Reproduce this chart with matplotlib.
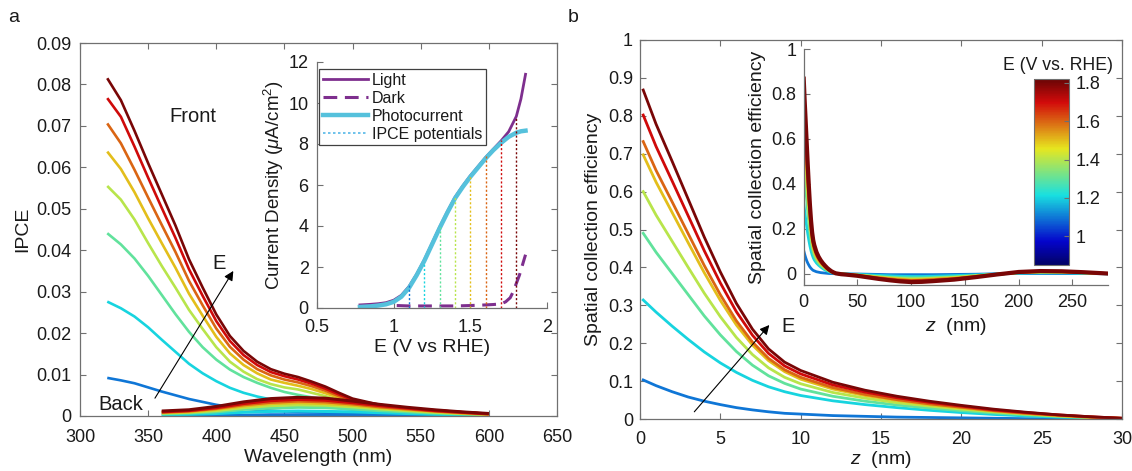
import numpy as np
import matplotlib
matplotlib.use("Agg")
import matplotlib.pyplot as plt
from matplotlib import colors
from matplotlib.colorbar import ColorbarBase
from matplotlib.lines import Line2D

plt.rcParams['font.family'] = ['Liberation Sans', 'DejaVu Sans']
plt.rcParams['mathtext.fontset'] = 'custom'
plt.rcParams['mathtext.rm'] = 'Liberation Sans'
plt.rcParams['mathtext.it'] = 'Liberation Sans:italic'

# ---------------- data ----------------
potentials = [1.1, 1.2, 1.3, 1.4, 1.5, 1.6, 1.7, 1.8]

# IPCE, front illumination
wl_front = [320, 330, 340, 350, 360, 370, 380, 390, 400, 410, 420, 430, 440,
            450, 460, 470, 480, 490, 500, 520, 540, 560, 580, 600]
ipce_front = [
    [0.0092, 0.0086, 0.0079, 0.0069, 0.0059, 0.0050, 0.0041, 0.0034, 0.0027, 0.0022, 0.0018, 0.0015, 0.0013,
     0.0011, 0.0010, 0.0009, 0.0008, 0.0006, 0.0005, 0.0003, 0.0002, 0.0002, 0.0001, 0.0001],
    [0.0276, 0.0260, 0.0240, 0.0214, 0.0184, 0.0155, 0.0126, 0.0103, 0.0084, 0.0068, 0.0056, 0.0047, 0.0040,
     0.0035, 0.0031, 0.0027, 0.0023, 0.0019, 0.0015, 0.0010, 0.0007, 0.0005, 0.0003, 0.0002],
    [0.0441, 0.0414, 0.0380, 0.0338, 0.0292, 0.0246, 0.0203, 0.0166, 0.0136, 0.0112, 0.0094, 0.0080, 0.0068,
     0.0058, 0.0051, 0.0045, 0.0039, 0.0032, 0.0025, 0.0015, 0.0010, 0.0007, 0.0005, 0.0003],
    [0.0555, 0.0522, 0.0474, 0.0417, 0.0362, 0.0310, 0.0256, 0.0210, 0.0166, 0.0131, 0.0107, 0.0089, 0.0077,
     0.0069, 0.0064, 0.0056, 0.0048, 0.0038, 0.0029, 0.0018, 0.0013, 0.0009, 0.0006, 0.0004],
    [0.0638, 0.0596, 0.0540, 0.0477, 0.0417, 0.0358, 0.0295, 0.0242, 0.0191, 0.0151, 0.0123, 0.0103, 0.0088,
     0.0080, 0.0073, 0.0065, 0.0055, 0.0044, 0.0033, 0.0021, 0.0015, 0.0011, 0.0007, 0.0004],
    [0.0706, 0.0658, 0.0594, 0.0527, 0.0461, 0.0396, 0.0326, 0.0267, 0.0211, 0.0167, 0.0136, 0.0113, 0.0098,
     0.0088, 0.0081, 0.0072, 0.0061, 0.0048, 0.0036, 0.0023, 0.0016, 0.0012, 0.0008, 0.0005],
    [0.0767, 0.0722, 0.0650, 0.0575, 0.0502, 0.0430, 0.0354, 0.0290, 0.0229, 0.0181, 0.0147, 0.0123, 0.0106,
     0.0096, 0.0088, 0.0078, 0.0066, 0.0052, 0.0039, 0.0025, 0.0018, 0.0013, 0.0009, 0.0005],
    [0.0815, 0.0762, 0.0688, 0.0610, 0.0535, 0.0460, 0.0378, 0.0310, 0.0245, 0.0193, 0.0157, 0.0131, 0.0113,
     0.0102, 0.0094, 0.0083, 0.0071, 0.0056, 0.0042, 0.0027, 0.0019, 0.0014, 0.0009, 0.0005],
]

# IPCE, back illumination
wl_back = [360, 380, 400, 420, 440, 460, 480, 500, 520, 540, 560, 580, 600]
ipce_back = [
    [0.0001, 0.0001, 0.0002, 0.0002, 0.0003, 0.0003, 0.0003, 0.0003, 0.0002, 0.0002, 0.0001, 0.0001, 0.0001],
    [0.0003, 0.0004, 0.0006, 0.0009, 0.0011, 0.0012, 0.0011, 0.0010, 0.0008, 0.0006, 0.0004, 0.0003, 0.0002],
    [0.0005, 0.0007, 0.0010, 0.0016, 0.0019, 0.0021, 0.0020, 0.0017, 0.0013, 0.0010, 0.0007, 0.0005, 0.0003],
    [0.0007, 0.0009, 0.0013, 0.0020, 0.0025, 0.0027, 0.0026, 0.0022, 0.0017, 0.0013, 0.0009, 0.0006, 0.0004],
    [0.0008, 0.0010, 0.0016, 0.0024, 0.0030, 0.0032, 0.0030, 0.0026, 0.0020, 0.0015, 0.0011, 0.0007, 0.0004],
    [0.0009, 0.0012, 0.0018, 0.0027, 0.0033, 0.0036, 0.0034, 0.0029, 0.0022, 0.0017, 0.0012, 0.0008, 0.0005],
    [0.0010, 0.0013, 0.0020, 0.0030, 0.0037, 0.0040, 0.0038, 0.0032, 0.0025, 0.0019, 0.0013, 0.0009, 0.0005],
    [0.0012, 0.0015, 0.0023, 0.0034, 0.0042, 0.0045, 0.0043, 0.0036, 0.0028, 0.0021, 0.0015, 0.0010, 0.0006],
]

# J-E curves
e_jv = [0.78, 0.85, 0.90, 0.95, 1.00, 1.05, 1.10, 1.15, 1.20, 1.25, 1.30, 1.35, 1.40,
        1.45, 1.50, 1.55, 1.60, 1.65, 1.70, 1.75, 1.80, 1.83, 1.86]
j_light = [0.15, 0.18, 0.21, 0.26, 0.38, 0.62, 1.05, 1.65, 2.35, 3.15, 3.95, 4.70, 5.40,
           5.95, 6.45, 6.90, 7.35, 7.75, 8.15, 8.60, 9.35, 10.2, 11.4]
j_photo = [0.05, 0.08, 0.12, 0.18, 0.30, 0.55, 0.98, 1.60, 2.30, 3.10, 3.90, 4.65, 5.35,
           5.90, 6.40, 6.85, 7.30, 7.70, 8.05, 8.35, 8.55, 8.62, 8.65]
e_dark = [1.02, 1.10, 1.20, 1.30, 1.40, 1.50, 1.60, 1.65, 1.70, 1.73, 1.76, 1.78, 1.80, 1.82, 1.84, 1.86]
j_dark = [0.12, 0.10, 0.10, 0.10, 0.10, 0.12, 0.15, 0.17, 0.20, 0.30, 0.50, 0.80, 1.20, 1.60, 2.10, 2.60]
j_ipce_top = [1.12, 2.26, 4.05, 5.43, 6.49, 7.46, 8.20, 9.33]

# spatial collection efficiency
z_near = [0.2, 1, 2, 3, 4, 5, 6, 7, 8, 9, 10, 12, 14, 16, 18, 20, 22, 24, 26, 28, 30]
sce_near = [
    [0.103, 0.088, 0.072, 0.058, 0.047, 0.038, 0.030, 0.024, 0.019, 0.015, 0.013, 0.009, 0.007, 0.005, 0.004,
     0.003, 0.002, 0.001, 0.001, 0.0005, 0.0002],
    [0.314, 0.282, 0.245, 0.210, 0.177, 0.148, 0.123, 0.102, 0.085, 0.072, 0.062, 0.048, 0.038, 0.030, 0.023,
     0.017, 0.012, 0.008, 0.005, 0.003, 0.001],
    [0.490, 0.440, 0.384, 0.328, 0.272, 0.222, 0.178, 0.142, 0.114, 0.094, 0.079, 0.060, 0.047, 0.037, 0.029,
     0.022, 0.016, 0.011, 0.007, 0.004, 0.001],
    [0.600, 0.538, 0.469, 0.400, 0.332, 0.270, 0.215, 0.170, 0.135, 0.110, 0.093, 0.070, 0.055, 0.043, 0.034,
     0.026, 0.019, 0.013, 0.008, 0.004, 0.0015],
    [0.697, 0.625, 0.545, 0.465, 0.386, 0.313, 0.248, 0.195, 0.154, 0.125, 0.105, 0.079, 0.062, 0.049, 0.038,
     0.029, 0.021, 0.015, 0.009, 0.005, 0.0015],
    [0.732, 0.656, 0.573, 0.489, 0.405, 0.328, 0.259, 0.203, 0.160, 0.130, 0.110, 0.083, 0.065, 0.051, 0.040,
     0.031, 0.022, 0.015, 0.010, 0.005, 0.002],
    [0.802, 0.719, 0.628, 0.536, 0.444, 0.359, 0.283, 0.221, 0.173, 0.140, 0.119, 0.090, 0.071, 0.056, 0.044,
     0.034, 0.024, 0.017, 0.011, 0.006, 0.002],
    [0.868, 0.778, 0.680, 0.580, 0.480, 0.388, 0.305, 0.237, 0.185, 0.150, 0.128, 0.097, 0.076, 0.060, 0.047,
     0.036, 0.026, 0.018, 0.011, 0.006, 0.002],
]
z_far = [35, 40, 50, 60, 70, 80, 90, 100, 110, 120, 140, 160, 180, 200, 220, 240, 260, 283]
sce_far = [
    [0.000, -0.001, -0.001, -0.002, -0.003, -0.004, -0.004, -0.004, -0.004, -0.004, -0.003, -0.002, 0.000,
     0.001, 0.001, 0.001, 0.001, 0.000],
    [-0.001, -0.001, -0.003, -0.005, -0.007, -0.009, -0.011, -0.012, -0.012, -0.011, -0.008, -0.005, -0.001,
     0.003, 0.004, 0.004, 0.002, 0.000],
    [-0.001, -0.002, -0.005, -0.008, -0.012, -0.015, -0.017, -0.018, -0.018, -0.017, -0.013, -0.008, -0.002,
     0.004, 0.006, 0.006, 0.004, 0.000],
    [-0.001, -0.002, -0.006, -0.010, -0.014, -0.018, -0.021, -0.023, -0.022, -0.020, -0.016, -0.009, -0.002,
     0.005, 0.007, 0.007, 0.004, 0.001],
    [-0.001, -0.003, -0.006, -0.012, -0.017, -0.021, -0.024, -0.027, -0.026, -0.024, -0.019, -0.011, -0.002,
     0.006, 0.009, 0.008, 0.005, 0.001],
    [-0.002, -0.003, -0.007, -0.013, -0.018, -0.023, -0.027, -0.030, -0.029, -0.026, -0.021, -0.012, -0.002,
     0.006, 0.010, 0.009, 0.006, 0.001],
    [-0.002, -0.004, -0.008, -0.014, -0.021, -0.026, -0.031, -0.033, -0.032, -0.030, -0.023, -0.014, -0.003,
     0.007, 0.011, 0.010, 0.006, 0.001],
    [-0.002, -0.004, -0.009, -0.016, -0.023, -0.029, -0.034, -0.037, -0.036, -0.033, -0.026, -0.015, -0.003,
     0.008, 0.012, 0.011, 0.007, 0.001],
]

# ---------------- styling ----------------
W, H = 1132, 471
SPINE = '#707070'
TXT = '#1a1a1a'
TICK_FS = 13
LABEL_FS = 14

# MATLAB-style jet, slightly softened, for the potential scale
_x = np.linspace(0, 1, 256)
_jet = np.stack([np.clip(1.5 - np.abs(4 * _x - 3), 0, 1),
                 np.clip(1.5 - np.abs(4 * _x - 2), 0, 1),
                 np.clip(1.5 - np.abs(4 * _x - 1), 0, 1)], axis=1)
_gray = _jet @ np.array([0.299, 0.587, 0.114])
_soft = (0.85 * _jet + 0.15 * _gray[:, None]) * 0.92
cmap = colors.ListedColormap(np.clip(_soft, 0, 1))
norm = colors.Normalize(vmin=0.85, vmax=1.82)
line_colors = [cmap(norm(e)) for e in potentials]


def px_axes(fig, left, top, right, bottom):
    return fig.add_axes([left / W, 1 - bottom / H, (right - left) / W, (bottom - top) / H])


def style(ax, box=True, xpad=9, ypad=5.5):
    for s in ax.spines.values():
        s.set_color(SPINE)
        s.set_linewidth(0.9)
    if not box:
        ax.spines['top'].set_visible(False)
        ax.spines['right'].set_visible(False)
    ax.tick_params(direction='in', length=4.5, width=0.8, color=SPINE,
                   labelsize=TICK_FS, labelcolor=TXT, top=box, right=box)
    ax.tick_params(axis='x', pad=xpad)
    ax.tick_params(axis='y', pad=ypad)


def num_fmt(v):
    return f'{v:.2f}'.rstrip('0').rstrip('.')


fig = plt.figure(figsize=(W / 100, H / 100), dpi=100)
fig.patch.set_facecolor('white')

# ---------------- panel a ----------------
ax_a = px_axes(fig, 80, 43, 557, 416)
for k in range(len(potentials)):
    ax_a.plot(wl_front, ipce_front[k], color=line_colors[k], lw=1.9, solid_capstyle='butt')
for k in range(len(potentials)):
    ax_a.plot(wl_back, ipce_back[k], color=line_colors[k], lw=2.2, solid_capstyle='butt')
ax_a.set_xlim(300, 650)
ax_a.set_ylim(0, 0.09)
ax_a.set_xticks(np.arange(300, 651, 50))
yt = np.round(np.arange(0, 0.0901, 0.01), 2)
ax_a.set_yticks(yt)
ax_a.set_yticklabels([num_fmt(v) for v in yt])
style(ax_a, xpad=9, ypad=6)
ax_a.set_xlabel('Wavelength (nm)', fontsize=LABEL_FS, color=TXT)
ax_a.xaxis.set_label_coords(0.5, -0.088)
ax_a.set_ylabel('IPCE', fontsize=LABEL_FS, color=TXT)
ax_a.yaxis.set_label_coords(-0.103, 0.5)
ax_a.text(383, 0.0722, 'Front', fontsize=14.5, ha='center', va='center', color=TXT)
ax_a.text(330, 0.0027, 'Back', fontsize=14.5, ha='center', va='center', color=TXT)
ax_a.text(402, 0.0369, 'E', fontsize=14.5, ha='center', va='center', color=TXT)
ax_a.annotate('', xy=(412.5, 0.0350), xytext=(355, 0.0043),
              arrowprops=dict(arrowstyle='-|>', lw=0.8, color='k', mutation_scale=14,
                              shrinkA=0, shrinkB=0))

# inset a: J-E curves
ins_a = px_axes(fig, 317, 62, 547, 308)
purple = (0.494, 0.184, 0.556)
cyan = '#55c1dc'
ins_a.plot(e_jv, j_light, color=purple, lw=2.0)
ins_a.plot(e_dark, j_dark, color=purple, lw=2.2, ls=(0, (4.5, 2.5)))
ins_a.plot(e_jv, j_photo, color=cyan, lw=3.2)
for k, e in enumerate(potentials):
    ins_a.plot([e, e], [0, j_ipce_top[k]], color=line_colors[k], lw=1.0, ls=(0, (1.5, 1.5)))
ins_a.set_xlim(0.5, 2)
ins_a.set_ylim(0, 12)
ins_a.set_xticks([0.5, 1, 1.5, 2])
ins_a.set_xticklabels(['0.5', '1', '1.5', '2'])
ins_a.set_yticks(np.arange(0, 13, 2))
ins_a.patch.set_alpha(0)
style(ins_a, box=False, xpad=8, ypad=6)
ins_a.set_xlabel('E (V vs RHE)', fontsize=LABEL_FS, color=TXT)
ins_a.xaxis.set_label_coords(0.5, -0.128)
ins_a.set_ylabel(r'Current Density ($\mu$A/cm$^2$)', fontsize=13.5, color=TXT)
ins_a.yaxis.set_label_coords(-0.135, 0.5)
handles = [Line2D([], [], color=purple, lw=2.0),
           Line2D([], [], color=purple, lw=2.2, ls=(0, (4.5, 2.5))),
           Line2D([], [], color=cyan, lw=3.2),
           Line2D([], [], color='#55b8e8', lw=1.2, ls=(0, (1.5, 1.5)))]
leg = ins_a.legend(handles, ['Light', 'Dark', 'Photocurrent', 'IPCE potentials'],
                   loc='upper left', bbox_to_anchor=(0.008, 0.972), fontsize=11.5,
                   handlelength=2.8, handletextpad=0.25, labelspacing=0.18,
                   borderpad=0.25, borderaxespad=0, fancybox=False, framealpha=1)
leg.get_frame().set_edgecolor('#404040')
leg.get_frame().set_linewidth(0.9)
for t in leg.get_texts():
    t.set_color(TXT)

# ---------------- panel b ----------------
ax_b = px_axes(fig, 640, 40, 1122, 419)
for k in range(len(potentials)):
    ax_b.plot(z_near, sce_near[k], color=line_colors[k], lw=2.0)
ax_b.set_xlim(0, 30)
ax_b.set_ylim(0, 1)
ax_b.set_xticks(np.arange(0, 31, 5))
ybt = np.round(np.arange(0, 1.01, 0.1), 1)
ax_b.set_yticks(ybt)
ax_b.set_yticklabels([num_fmt(v) for v in ybt])
style(ax_b, xpad=9, ypad=5)
ax_b.set_xlabel(r'$z$  (nm)', fontsize=LABEL_FS, color=TXT)
ax_b.xaxis.set_label_coords(0.5, -0.079)
ax_b.set_ylabel('Spatial collection efficiency', fontsize=LABEL_FS, color=TXT)
ax_b.yaxis.set_label_coords(-0.079, 0.5)
ax_b.annotate('', xy=(8.05, 0.248), xytext=(3.38, 0.019),
              arrowprops=dict(arrowstyle='-|>', lw=0.8, color='k', mutation_scale=14,
                              shrinkA=0, shrinkB=0))
ax_b.text(8.8, 0.243, 'E', fontsize=14.5, ha='left', va='center', color=TXT)

# inset b: full-depth profiles
ins_b = px_axes(fig, 803.5, 49, 1108, 285)
for k in range(len(potentials)):
    lw = 3.0 if k == len(potentials) - 1 else 2.0
    ins_b.plot(list(z_near) + list(z_far), list(sce_near[k]) + list(sce_far[k]),
               color=line_colors[k], lw=lw)
ins_b.set_xlim(0, 283)
ins_b.set_ylim(-0.05, 1.0)
ins_b.set_xticks(np.arange(0, 251, 50))
ins_b.set_yticks([0, 0.2, 0.4, 0.6, 0.8, 1])
ins_b.set_yticklabels(['0', '0.2', '0.4', '0.6', '0.8', '1'])
ins_b.patch.set_alpha(0)
style(ins_b, box=False, xpad=6.5, ypad=5)
ins_b.set_xlabel(r'$z$  (nm)', fontsize=LABEL_FS, color=TXT)
ins_b.xaxis.set_label_coords(0.5, -0.131)
ins_b.set_ylabel('Spatial collection efficiency', fontsize=LABEL_FS, color=TXT)
ins_b.yaxis.set_label_coords(-0.123, 0.5)

# colour bar for the applied potential
cax = px_axes(fig, 1034, 79, 1069, 265)
cb = ColorbarBase(cax, cmap=cmap, norm=norm, orientation='vertical',
                  ticks=[1.0, 1.2, 1.4, 1.6, 1.8])
cb.set_ticklabels(['1', '1.2', '1.4', '1.6', '1.8'])
cb.outline.set_edgecolor(SPINE)
cb.outline.set_linewidth(0.8)
cax.tick_params(direction='in', length=3.5, width=0.8, color=SPINE,
                labelsize=TICK_FS, labelcolor=TXT, pad=5)
fig.text(1058 / W, 1 - 65 / H, 'E (V vs. RHE)', fontsize=12.7, ha='center', va='center', color=TXT)

# panel letters
fig.text(14 / W, 1 - 18 / H, 'a', fontsize=14, ha='center', va='center', color=TXT)
fig.text(573 / W, 1 - 18 / H, 'b', fontsize=14, ha='center', va='center', color=TXT)

fig.savefig('out.png', dpi=100, facecolor='white')
